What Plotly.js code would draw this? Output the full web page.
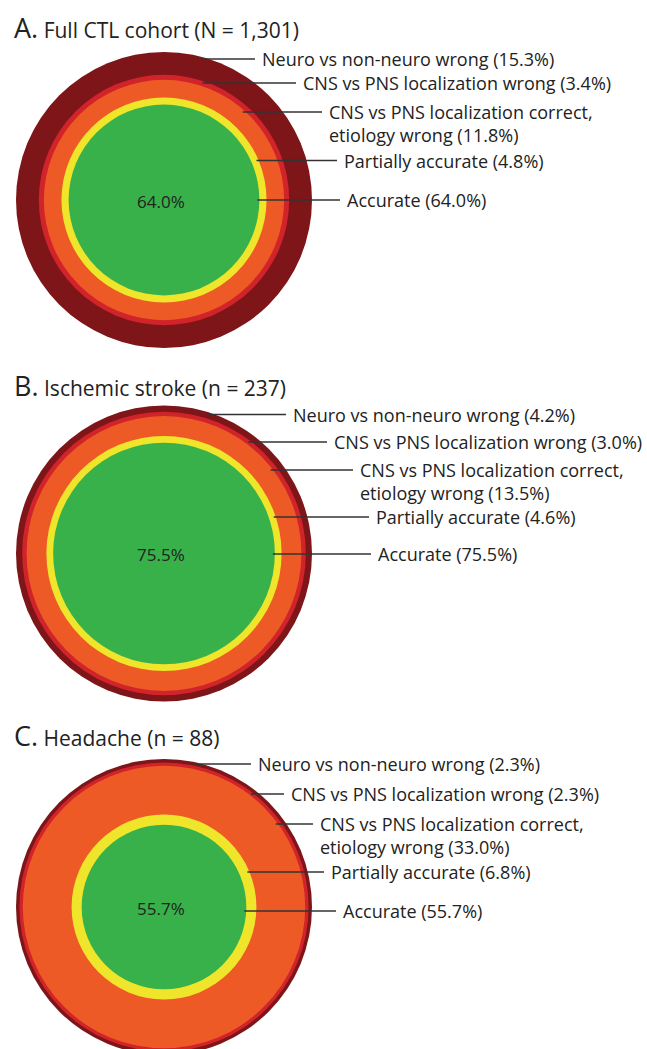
<!DOCTYPE html>
<html>
<head>
<meta charset="utf-8">
<script src="https://cdn.plot.ly/plotly-3.0.1.min.js"></script>
<style>html,body{margin:0;padding:0;background:#fff}#chart{width:647px;height:1049px}</style>
</head>
<body>
<div id="chart"></div>
<script>
// ---- data ----
var categories = ["Accurate", "Partially accurate", "CNS vs PNS localization correct, etiology wrong", "CNS vs PNS localization wrong", "Neuro vs non-neuro wrong"];
var panelLetters = ["A.", "B.", "C."];
var panelTitles = ["Full CTL cohort (N = 1,301)", "Ischemic stroke (n = 237)", "Headache (n = 88)"];
var fullCohort = [64.0, 4.8, 11.8, 3.4, 15.3];
var ischemicStroke = [75.5, 4.6, 13.5, 3.0, 4.2];
var headache = [55.7, 6.8, 33.0, 2.3, 2.3];

// ---- styles / layout ----
var ringColors = ["#38B14A", "#EFE52B", "#EE5A26", "#D0232A", "#7E1518"];
var FONT = "Open Sans, Noto Sans, sans-serif";
var R_PX = 148;               // outer radius in pixels
var W = 647, H = 1049, CX = 164;
var panels = [
  {top: 0,   bottom: 350,  cy: 200,   labelY: [0, 39.5, 88, 117, 141],     textX: [182, 179, 164, 138, 97],  titleY: 173},
  {top: 350, bottom: 705,  cy: 553.5, labelY: [-0.5, 36.5, 83.5, 111.5, 139], textX: [213, 211, 195, 169, 128], titleY: 168.5},
  {top: 705, bottom: 1049, cy: 907,   labelY: [-4, 35, 83, 113, 143],      textX: [178, 166, 155, 126, 93],  titleY: 172}
];
var series = [fullCohort, ischemicStroke, headache];

var layout = {
  width: W, height: H,
  margin: {l: 0, r: 0, t: 0, b: 0},
  paper_bgcolor: "#ffffff", plot_bgcolor: "rgba(0,0,0,0)",
  showlegend: false,
  shapes: [], annotations: []
};
var traces = [];

series.forEach(function (vals, p) {
  var P = panels[p];
  var sfx = p === 0 ? "" : String(p + 1);
  var xa = "xaxis" + sfx, ya = "yaxis" + sfx;
  var xr = "x" + sfx, yr = "y" + sfx;
  layout[xa] = {domain: [0, 1], range: [-CX, W - CX], visible: false, fixedrange: true, anchor: yr};
  layout[ya] = {domain: [1 - P.bottom / H, 1 - P.top / H], range: [P.cy - P.bottom, P.cy - P.top], visible: false, fixedrange: true, anchor: xr};
  // invisible trace to bind the axes
  traces.push({type: "scatter", x: [0], y: [0], xaxis: xr, yaxis: yr, mode: "markers", marker: {opacity: 0}, hoverinfo: "skip"});

  var total = vals.reduce(function (a, b) { return a + b; }, 0);
  var cum = [], s = 0;
  vals.forEach(function (v) { s += v; cum.push(s); });
  var radii = cum.map(function (c) { return c / total * R_PX; });

  // rings, outermost first
  for (var i = vals.length - 1; i >= 0; i--) {
    var r = radii[i];
    layout.shapes.push({type: "circle", xref: xr, yref: yr, x0: -r, x1: r, y0: -r, y1: r,
      fillcolor: ringColors[i], line: {width: 0}, layer: "above"});
  }
  // centre value
  layout.annotations.push({xref: xr, yref: yr, x: -3, y: -1, text: vals[0].toFixed(1) + "%", showarrow: false,
    font: {family: FONT, size: 17, color: "#222222"}, xanchor: "center", yanchor: "middle"});

  // labels with leader lines
  categories.forEach(function (cat, i) {
    var y = P.labelY[i];
    var rIn = radii[i] - 2;
    var xs = Math.sqrt(Math.max(rIn * rIn - y * y, 0));
    var tx = P.textX[i];
    layout.shapes.push({type: "line", xref: xr, yref: yr, x0: xs, x1: tx - 6, y0: y, y1: y,
      line: {color: "#333333", width: 1.3}, layer: "above"});
    var label = cat + " (" + vals[i].toFixed(1) + "%)";
    var multi = cat.indexOf(", ") >= 0;
    if (multi) label = label.replace(", ", ",<br>");
    layout.annotations.push({xref: xr, yref: yr, x: tx, y: multi ? y - 11.5 : y, text: label, showarrow: false,
      align: "left", xanchor: "left", yanchor: "middle", borderpad: 0,
      font: {family: FONT, size: 18, color: "#222222"}});
  });

  // panel title
  layout.annotations.push({xref: xr, yref: yr, x: -CX + 12, y: P.titleY, xanchor: "left", yanchor: "middle", showarrow: false,
    text: "<span style='font-size:27px'>" + panelLetters[p] + "</span> " + panelTitles[p],
    font: {family: FONT, size: 21, color: "#222222"}});
});

Plotly.newPlot("chart", traces, layout, {displayModeBar: false, staticPlot: true});
</script>
</body>
</html>
